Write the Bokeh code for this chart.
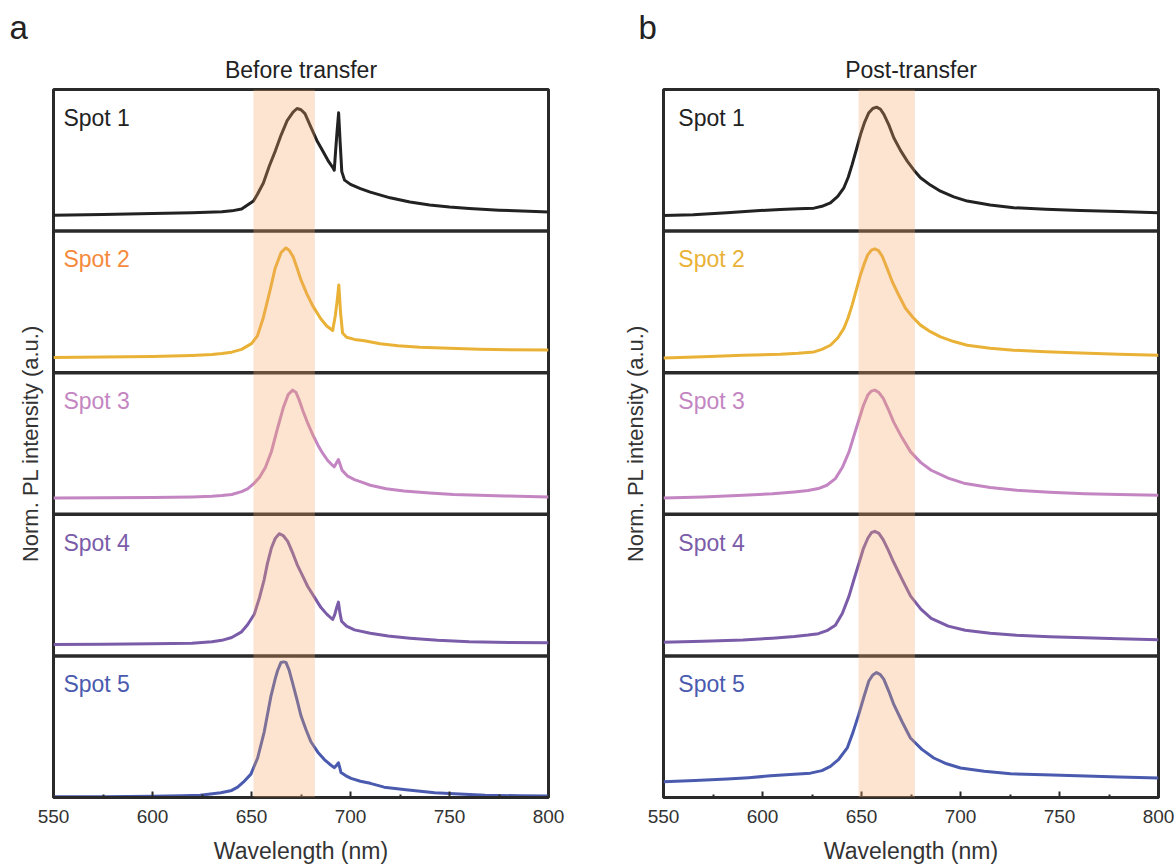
import numpy as np
from bokeh.plotting import figure
from bokeh.layouts import row
from bokeh.models import Span, BoxAnnotation, Title, Range1d, FixedTicker, ColumnDataSource
from bokeh.core.properties import value
from bokeh.embed import file_html
from bokeh.resources import INLINE

FONT = "Liberation Sans"

spots = ["Spot 1", "Spot 2", "Spot 3", "Spot 4", "Spot 5"]
line_colors = ["#222222", "#E9B237", "#C486C2", "#7B5CA9", "#4A5BAF"]
label_colors_a = ["#222222", "#F58A3C", "#C486C2", "#7B5CA9", "#4A5BAF"]
label_colors_b = ["#222222", "#E9B237", "#C486C2", "#7B5CA9", "#4A5BAF"]

x_ticks = [550, 600, 650, 700, 750, 800]
x_minor = [575, 625, 675, 725, 775]
band_a = (651, 682)
band_b = (648.5, 677)

# ---- (a) Before transfer ----
a1_wl = [550, 575, 600, 620, 635, 640, 645, 651, 653, 656, 659, 662, 665, 668, 671, 673, 675, 677, 680, 683, 686, 689, 691,
         691.8, 692.5, 693.2, 694.0, 694.8, 695.6, 697, 700, 705, 710, 720, 730, 740, 750, 760, 775, 790, 800]
a1_int = [0.112, 0.118, 0.124, 0.13, 0.137, 0.143, 0.156, 0.213, 0.26, 0.34, 0.46, 0.565, 0.68, 0.78, 0.84, 0.866, 0.857, 0.83, 0.735, 0.64, 0.565, 0.49, 0.45,
          0.43, 0.57, 0.70, 0.835, 0.62, 0.42, 0.36, 0.33, 0.30, 0.275, 0.235, 0.205, 0.185, 0.17, 0.16, 0.148, 0.14, 0.135]

a2_wl = [550, 575, 600, 620, 630, 635, 640, 645, 650, 653, 656, 659, 662, 665, 667.4, 669, 671, 673, 675, 678, 681, 685, 688, 691,
         692.3, 693.2, 694.1, 695, 696, 698, 702, 707, 715, 724, 735, 750, 765, 780, 800]
a2_int = [0.107, 0.11, 0.115, 0.122, 0.128, 0.135, 0.145, 0.165, 0.205, 0.26, 0.39, 0.56, 0.74, 0.85, 0.881, 0.865, 0.82, 0.74, 0.655, 0.555, 0.47, 0.381, 0.33, 0.298,
          0.40, 0.50, 0.62, 0.42, 0.28, 0.25, 0.235, 0.225, 0.205, 0.19, 0.18, 0.172, 0.166, 0.162, 0.16]

a3_wl = [550, 575, 600, 620, 630, 635, 640, 645, 648, 651, 654, 657, 660, 663, 666, 668.5, 670.8, 672.5, 674, 676, 678.5, 681, 683.5, 686, 688.5, 691,
         691.8, 692.8, 693.9, 694.8, 695.8, 698.6, 702, 706, 710, 718, 727, 740, 752, 765, 778, 790, 800]
a3_int = [0.115, 0.116, 0.118, 0.122, 0.127, 0.132, 0.14, 0.16, 0.18, 0.215, 0.26, 0.33, 0.44, 0.60, 0.75, 0.845, 0.877, 0.86, 0.81, 0.73, 0.64, 0.56, 0.49, 0.43, 0.38, 0.345,
          0.335, 0.36, 0.387, 0.35, 0.31, 0.269, 0.245, 0.225, 0.205, 0.18, 0.165, 0.15, 0.139, 0.134, 0.13, 0.125, 0.122]

a4_wl = [550, 575, 600, 620, 630, 635, 640, 645, 648, 651.4, 654, 656.4, 658, 660, 662, 664, 666, 668.3, 671, 673.3, 676, 678.4, 682, 685, 688, 691,
         692, 693, 693.9, 694.7, 695.5, 698, 702, 710, 719, 730, 744, 760, 780, 800]
a4_int = [0.08, 0.082, 0.085, 0.09, 0.1, 0.11, 0.13, 0.17, 0.22, 0.294, 0.41, 0.539, 0.65, 0.76, 0.83, 0.863, 0.85, 0.809, 0.72, 0.637, 0.56, 0.49, 0.41, 0.343, 0.295, 0.257,
          0.29, 0.34, 0.38, 0.30, 0.245, 0.21, 0.184, 0.16, 0.14, 0.125, 0.11, 0.10, 0.095, 0.093]

a5_wl = [550, 575, 600, 615, 624, 634.5, 640, 643, 646, 649.7, 653.1, 656.4, 659.8, 662, 663.2, 664.9, 666.2, 667.4, 669, 670.8, 673, 675, 677.5, 680,
         683.5, 686.8, 689.5, 691.8, 692.8, 693.9, 694.6, 695.2, 697.5, 700.3, 705, 710, 717, 728, 742.5, 755, 768, 785, 800]
a5_int = [0.005, 0.006, 0.008, 0.012, 0.016, 0.034, 0.05, 0.073, 0.11, 0.165, 0.279, 0.462, 0.714, 0.84, 0.897, 0.954, 0.958, 0.954, 0.90, 0.806, 0.69, 0.577, 0.48, 0.394,
          0.32, 0.268, 0.235, 0.211, 0.225, 0.245, 0.21, 0.176, 0.155, 0.135, 0.115, 0.10, 0.073, 0.055, 0.034, 0.025, 0.016, 0.012, 0.01]

# ---- (b) Post-transfer ----
b1_wl = [550, 565, 582, 595, 609, 618, 626, 630, 634.3, 638, 641.1, 643.3, 645.3, 647.5, 649.5, 651.6, 653.7, 655.7, 657.6, 659.5, 661.3, 663.8,
         666.3, 669.7, 673.1, 676.5, 679.8, 684.8, 689.9, 696.6, 703.4, 715, 726.9, 743, 760.6, 780, 800]
b1_int = [0.11, 0.115, 0.13, 0.142, 0.153, 0.158, 0.162, 0.175, 0.20, 0.245, 0.306, 0.38, 0.471, 0.58, 0.682, 0.77, 0.836, 0.866, 0.875, 0.862, 0.824, 0.75,
          0.659, 0.57, 0.494, 0.43, 0.377, 0.325, 0.282, 0.242, 0.212, 0.185, 0.165, 0.155, 0.146, 0.138, 0.13]

b2_wl = [550, 570, 590, 609, 618, 626, 630, 634.3, 638, 641.1, 643.3, 645.3, 647.5, 649.5, 651.4, 653.2, 655, 656.7, 658.6, 660.5, 663, 665.5,
         668.9, 672.2, 676, 679.8, 684.8, 689.9, 696.6, 703.4, 715, 726.9, 743, 760.6, 780, 800]
b2_int = [0.104, 0.113, 0.123, 0.13, 0.137, 0.147, 0.165, 0.194, 0.245, 0.313, 0.39, 0.479, 0.59, 0.692, 0.77, 0.834, 0.865, 0.875, 0.862, 0.822, 0.735, 0.644,
          0.545, 0.455, 0.39, 0.336, 0.29, 0.253, 0.22, 0.194, 0.172, 0.159, 0.148, 0.139, 0.131, 0.123]

b3_wl = [550, 570, 590.2, 605, 616.1, 623, 628.2, 632.5, 636.8, 640.3, 643.7, 646.3, 648.9, 651, 653.2, 655, 656.7, 658.8, 661, 663.6, 666.2,
         670.5, 674.8, 680, 685.2, 693.8, 702.4, 715, 728.3, 745, 762.8, 780, 800]
b3_int = [0.115, 0.122, 0.134, 0.145, 0.158, 0.168, 0.182, 0.205, 0.252, 0.33, 0.441, 0.56, 0.677, 0.77, 0.842, 0.87, 0.877, 0.86, 0.818, 0.74, 0.653,
          0.54, 0.441, 0.365, 0.311, 0.255, 0.217, 0.19, 0.17, 0.156, 0.146, 0.14, 0.134]

b4_wl = [550, 570, 590.2, 605, 616.1, 623, 628.2, 632.5, 636.8, 640.3, 643.7, 646.3, 648.9, 651, 653.2, 655, 656.7, 658.8, 661, 663.6, 666.2,
         670.5, 674.8, 680, 685.2, 693.8, 702.4, 715, 728.3, 745, 762.8, 780, 800]
b4_int = [0.096, 0.103, 0.113, 0.125, 0.137, 0.147, 0.157, 0.178, 0.217, 0.30, 0.422, 0.545, 0.663, 0.76, 0.831, 0.87, 0.88, 0.865, 0.819, 0.745, 0.663,
          0.54, 0.422, 0.33, 0.265, 0.21, 0.181, 0.16, 0.145, 0.135, 0.128, 0.121, 0.114]

b5_wl = [550, 566, 582.2, 593, 604, 614, 624.2, 630, 634.3, 638.5, 642.8, 645.7, 648.6, 651.2, 653.7, 655.7, 657.6, 659.5, 661.3, 663.8, 666.3,
         670.5, 674.7, 680.5, 686.5, 693, 700, 712, 725.3, 742, 759, 780, 800]
b5_int = [0.112, 0.12, 0.13, 0.14, 0.153, 0.163, 0.172, 0.19, 0.22, 0.27, 0.35, 0.46, 0.586, 0.71, 0.823, 0.865, 0.882, 0.868, 0.834, 0.75, 0.657,
          0.535, 0.42, 0.34, 0.279, 0.238, 0.208, 0.185, 0.167, 0.16, 0.153, 0.145, 0.137]

a_wls = [a1_wl, a2_wl, a3_wl, a4_wl, a5_wl]
a_ints = [a1_int, a2_int, a3_int, a4_int, a5_int]
b_wls = [b1_wl, b2_wl, b3_wl, b4_wl, b5_wl]
b_ints = [b1_int, b2_int, b3_int, b4_int, b5_int]


def make_panel(title_text, letter, letter_offset, wls, ints, lab_colors, band,
               min_left, min_right, frame_w, label_x, ylab_standoff):
    p = figure(frame_width=frame_w, frame_height=708,
               x_range=Range1d(550, 800), y_range=Range1d(0, 5),
               output_backend="svg", toolbar_location=None,
               min_border_left=min_left, min_border_right=min_right,
               min_border_top=89, min_border_bottom=66)
    # panel letter (outermost title)
    p.title.text = letter
    p.title.align = "left"
    p.title.offset = letter_offset
    p.title.text_font = FONT
    p.title.text_font_size = "33px"
    p.title.text_font_style = "normal"
    p.title.text_color = "#222222"
    p.title.standoff = 4
    # panel heading (next to the frame)
    p.add_layout(Title(text=title_text, align="center", standoff=14,
                       text_font=FONT, text_font_size="23px",
                       text_font_style="normal", text_color="#222222"), "above")

    p.xgrid.visible = False
    p.ygrid.visible = False
    p.outline_line_color = "#2a2a2a"
    p.outline_line_width = 3
    p.background_fill_color = "white"
    p.border_fill_color = "white"

    xa = p.xaxis[0]
    xa.ticker = FixedTicker(ticks=x_ticks, minor_ticks=x_minor)
    xa.axis_line_color = "#2a2a2a"
    xa.axis_line_width = 3
    xa.major_tick_in = 6
    xa.major_tick_out = 0
    xa.minor_tick_in = 3
    xa.minor_tick_out = 0
    xa.major_tick_line_width = 2
    xa.minor_tick_line_width = 2
    xa.major_tick_line_color = "#2a2a2a"
    xa.minor_tick_line_color = "#2a2a2a"
    xa.major_label_text_font = FONT
    xa.major_label_text_font_size = "19px"
    xa.major_label_text_color = "#333333"
    xa.major_label_standoff = 12
    xa.axis_label = "Wavelength (nm)"
    xa.axis_label_text_font = FONT
    xa.axis_label_text_font_size = "23px"
    xa.axis_label_text_font_style = "normal"
    xa.axis_label_text_color = "#333333"
    xa.axis_label_standoff = 12

    ya = p.yaxis[0]
    ya.ticker = FixedTicker(ticks=[])
    ya.major_label_text_font_size = "0px"
    ya.major_tick_line_color = None
    ya.minor_tick_line_color = None
    ya.axis_line_color = None
    ya.axis_label = "Norm. PL intensity (a.u.)"
    ya.axis_label_text_font = FONT
    ya.axis_label_text_font_size = "22px"
    ya.axis_label_text_font_style = "normal"
    ya.axis_label_text_color = "#333333"
    ya.axis_label_standoff = ylab_standoff

    n = len(spots)
    offsets = [n - 1 - i for i in range(n)]
    for i in range(n):
        p.line(np.array(wls[i]), np.array(ints[i]) + offsets[i],
               line_color=line_colors[i], line_width=3, line_join="round")

    src = ColumnDataSource(dict(x=[label_x] * n, y=[o + 0.8 for o in offsets],
                                text=spots, color=lab_colors))
    p.text(x="x", y="y", text="text", text_color="color", source=src,
           text_font=value(FONT), text_font_size="23px",
           text_align="left", text_baseline="middle")

    for k in range(1, n):
        p.add_layout(Span(location=k, dimension="width",
                          line_color="#2a2a2a", line_width=3.5))

    p.add_layout(BoxAnnotation(left=band[0], right=band[1],
                               fill_color="#F5A562", fill_alpha=0.3,
                               line_alpha=0, level="overlay"))
    return p


pa = make_panel("Before transfer", "a", -44, a_wls, a_ints, label_colors_a, band_a,
                53, 60, 495, 555, 11)
pb = make_panel("Post-transfer", "b", -25, b_wls, b_ints, label_colors_b, band_b,
                55, 16, 495, 557.5, 16)

layout = row(pa, pb)
open("out.html", "w").write(file_html(layout, INLINE))
